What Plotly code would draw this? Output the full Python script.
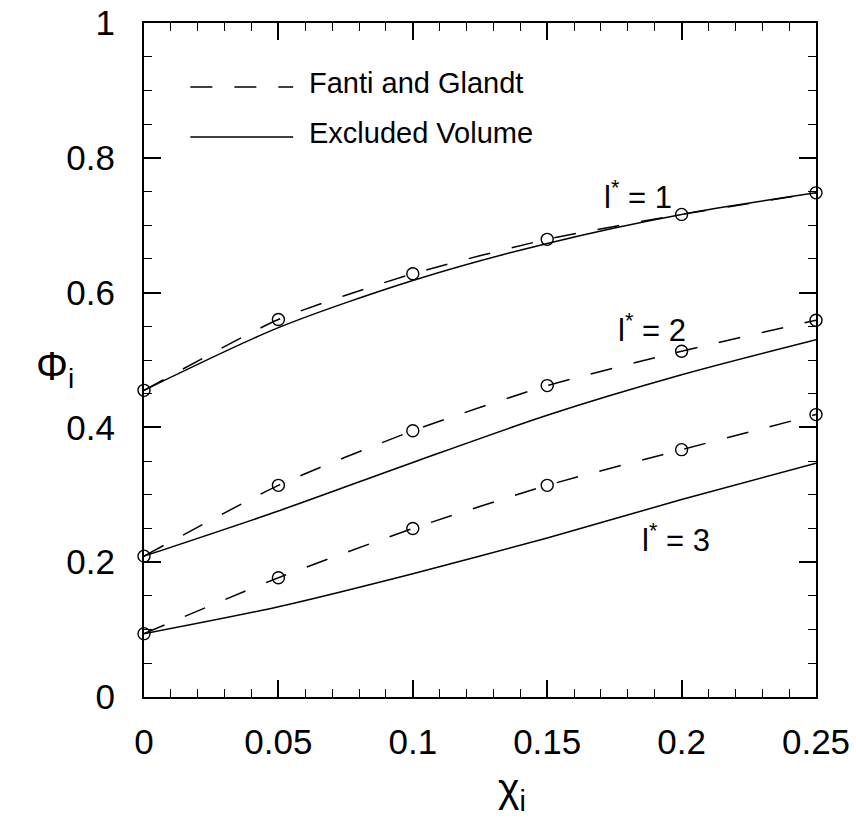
import plotly.graph_objects as go

# Mole fraction of species i
chi = [0, 0.05, 0.10, 0.15, 0.20, 0.25]

# Fanti and Glandt results (dashed, circles) for l* = 1, 2, 3
fg_l1 = [0.455, 0.560, 0.628, 0.679, 0.716, 0.748]
fg_l2 = [0.209, 0.314, 0.395, 0.462, 0.513, 0.559]
fg_l3 = [0.094, 0.177, 0.250, 0.314, 0.367, 0.419]

# Excluded volume results (solid) for l* = 1, 2, 3
ev_l1 = [0.455, 0.548, 0.618, 0.673, 0.716, 0.748]
ev_l2 = [0.209, 0.276, 0.348, 0.418, 0.478, 0.530]
ev_l3 = [0.094, 0.134, 0.183, 0.236, 0.293, 0.347]

curve_labels = ["l<sup>*</sup> = 1", "l<sup>*</sup> = 2", "l<sup>*</sup> = 3"]
label_pos = [(0.1838, 0.745), (0.1889, 0.548), (0.1978, 0.236)]

x_ticks = [0, 0.05, 0.10, 0.15, 0.20, 0.25]
y_ticks = [0, 0.2, 0.4, 0.6, 0.8, 1.0]

FONT = "Liberation Sans, Arial, Helvetica, sans-serif"
DASH = "22px,22px"
LW = 1.5

fig = go.Figure()

for ev in (ev_l1, ev_l2, ev_l3):
    fig.add_trace(go.Scatter(
        x=chi, y=ev, mode="lines",
        line=dict(color="black", width=LW, shape="spline", smoothing=0.8),
        showlegend=False, hoverinfo="skip"))

for fg in (fg_l1, fg_l2, fg_l3):
    fig.add_trace(go.Scatter(
        x=chi, y=fg, mode="lines+markers",
        line=dict(color="black", width=LW, dash=DASH, shape="spline", smoothing=0.6),
        marker=dict(symbol="circle-open", size=12, color="black",
                    line=dict(width=1.4, color="black")),
        showlegend=False, cliponaxis=False, hoverinfo="skip"))

annotations = []
for txt, (lx, ly) in zip(curve_labels, label_pos):
    annotations.append(dict(x=lx, y=ly, xref="x", yref="y", text=txt,
                            showarrow=False, font=dict(family=FONT, size=31, color="black")))

# Key, drawn inside the frame at upper left
key_items = [("Fanti and Glandt", DASH, 0.905), ("Excluded Volume", "solid", 0.831)]
shapes = []
for name, dash, yk in key_items:
    shapes.append(dict(type="line", xref="paper", yref="paper",
                       x0=0.069, x1=0.222, y0=yk, y1=yk,
                       line=dict(color="black", width=LW, dash=dash)))
    annotations.append(dict(x=0.242, y=yk + 0.006, xref="paper", yref="paper",
                            text=name, showarrow=False, xanchor="left", yanchor="middle",
                            font=dict(family=FONT, size=29, color="black")))

# Axis titles
annotations.append(dict(x=-0.163, y=0.487, xref="paper", yref="paper",
                        text="Φ<sub>i</sub>", showarrow=False, yanchor="middle",
                        font=dict(family=FONT, size=40, color="black")))
annotations.append(dict(x=0.548, y=-0.139, xref="paper", yref="paper",
                        text="χ<sub>i</sub>", showarrow=False, yanchor="middle",
                        font=dict(family=FONT, size=41, color="black")))

axis_common = dict(
    showline=True, linecolor="black", linewidth=2, mirror="ticks",
    ticks="inside", ticklen=17, tickwidth=1.5, tickcolor="black",
    showgrid=False, zeroline=False, automargin=False,
    tickfont=dict(family=FONT, size=35, color="black"),
)

fig.update_layout(
    width=856, height=819,
    margin=dict(l=144, r=40, t=23, b=122),
    paper_bgcolor="white", plot_bgcolor="white",
    xaxis=dict(range=[0, 0.25], tickvals=x_ticks, ticktext=["0", "0.05", "0.1", "0.15", "0.2", "0.25"],
               ticklabelstandoff=13,
               minor=dict(dtick=0.01, tick0=0, ticks="inside", ticklen=8, tickwidth=1.3,
                          tickcolor="black"),
               **axis_common),
    yaxis=dict(range=[0, 1], tickvals=y_ticks, ticktext=["0", "0.2", "0.4", "0.6", "0.8", "1"],
               ticklabelstandoff=20,
               minor=dict(dtick=0.05, tick0=0, ticks="inside", ticklen=8, tickwidth=1.3,
                          tickcolor="black"),
               **axis_common),
    shapes=shapes,
    annotations=annotations,
    showlegend=False,
)

fig.write_html("out.html")
